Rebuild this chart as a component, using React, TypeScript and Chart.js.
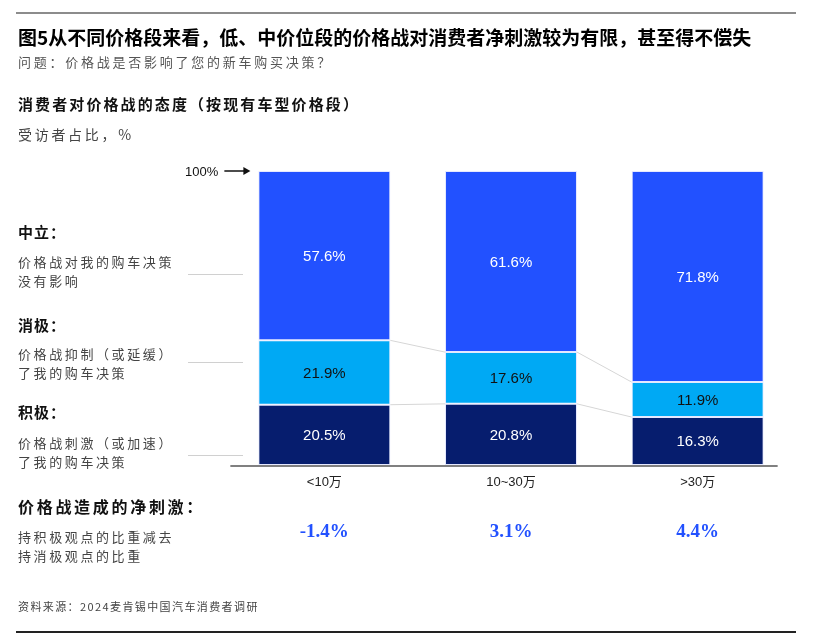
import React, { useEffect, useRef } from "react";
import { Chart, registerables } from "chart.js";

Chart.register(...registerables);

const categories = ["<10万", "10~30万", ">30万"];
const positiveShare = [20.5, 20.8, 16.3];
const negativeShare = [21.9, 17.6, 11.9];
const neutralShare = [57.6, 61.6, 71.8];
const netStimulus = ["-1.4%", "3.1%", "4.4%"];
const seriesColors = ["#061d6e", "#00a9f4", "#2251ff"];
const labelColors = ["#ffffff", "#111111", "#ffffff"];

const CJK = '"Noto Sans CJK SC", "Noto Sans", sans-serif';

const overlayPlugin = {
  id: "overlay",
  afterDatasetsDraw(chart: any) {
    const ctx = chart.ctx;
    const yScale = chart.scales.y;
    const xScale = chart.scales.x;
    ctx.save();
    // connectors between bars
    ctx.strokeStyle = "#d6d6d6";
    ctx.lineWidth = 1;
    [0, 1].forEach((di) => {
      const els = chart.getDatasetMeta(di).data;
      for (let j = 0; j < els.length - 1; j++) {
        const a = els[j], b = els[j + 1];
        ctx.beginPath();
        ctx.moveTo(a.x + a.width / 2, a.y);
        ctx.lineTo(b.x - b.width / 2, b.y);
        ctx.stroke();
      }
    });
    // data labels
    ctx.font = '15px "Liberation Sans", Arial, sans-serif';
    ctx.textAlign = "center";
    ctx.textBaseline = "middle";
    chart.data.datasets.forEach((ds: any, di: number) => {
      const els = chart.getDatasetMeta(di).data;
      els.forEach((el: any, j: number) => {
        ctx.fillStyle = labelColors[di];
        ctx.fillText(ds.data[j].toFixed(1) + "%", el.x, (el.y + el.base) / 2 + 1);
      });
    });
    // axis line
    const first = chart.getDatasetMeta(0).data[0];
    const last = chart.getDatasetMeta(0).data[categories.length - 1];
    const yb = yScale.getPixelForValue(0);
    ctx.strokeStyle = "#808080";
    ctx.lineWidth = 2;
    ctx.beginPath();
    ctx.moveTo(first.x - first.width / 2 - 28, yb + 1);
    ctx.lineTo(last.x + last.width / 2 + 14, yb + 1);
    ctx.stroke();
    // 100% arrow
    const yt = yScale.getPixelForValue(100);
    const ax = first.x - first.width / 2;
    ctx.fillStyle = "#111";
    ctx.font = '13px "Liberation Sans", Arial, sans-serif';
    ctx.textAlign = "right";
    ctx.fillText("100%", ax - 40, yt + 1);
    ctx.strokeStyle = "#111";
    ctx.lineWidth = 1.5;
    ctx.beginPath();
    ctx.moveTo(ax - 34, yt);
    ctx.lineTo(ax - 12, yt);
    ctx.stroke();
    ctx.beginPath();
    ctx.moveTo(ax - 8, yt);
    ctx.lineTo(ax - 15, yt - 4);
    ctx.lineTo(ax - 15, yt + 4);
    ctx.closePath();
    ctx.fill();
    // net stimulus values
    ctx.fillStyle = "#2251ff";
    ctx.font = 'bold 19px "Liberation Serif", "DejaVu Serif", serif';
    ctx.textAlign = "center";
    netStimulus.forEach((v, j) => {
      ctx.fillText(v, xScale.getPixelForValue(j), 532);
    });
    ctx.restore();
  },
};

function Txt(props: { x: number; y: number; size: number; bold?: boolean; color?: string; ls?: number; children: any }) {
  return (
    <div
      style={{
        position: "absolute",
        left: props.x,
        top: props.y,
        transform: "translateY(-50%)",
        fontFamily: CJK,
        fontSize: props.size,
        fontWeight: props.bold ? 700 : 400,
        color: props.color || "#111",
        letterSpacing: props.ls || 0,
        whiteSpace: "nowrap",
        lineHeight: 1.2,
      }}
    >
      {props.children}
    </div>
  );
}

function Rule(props: { x: number; y: number; w: number; h: number; color: string }) {
  return (
    <div style={{ position: "absolute", left: props.x, top: props.y, width: props.w, height: props.h, background: props.color }} />
  );
}

export default function App() {
  const ref = useRef<HTMLCanvasElement | null>(null);
  useEffect(() => {
    if (!ref.current) return;
    const chart = new Chart(ref.current, {
      type: "bar",
      data: {
        labels: categories,
        datasets: [
          { label: "积极", data: positiveShare, backgroundColor: seriesColors[0] },
          { label: "消极", data: negativeShare, backgroundColor: seriesColors[1] },
          { label: "中立", data: neutralShare, backgroundColor: seriesColors[2] },
        ].map((d) => ({
          ...d,
          borderColor: "rgba(225,228,255,0.85)",
          borderWidth: 1,
          borderSkipped: false,
          categoryPercentage: 1,
          barPercentage: 0.707,
        })),
      },
      options: {
        responsive: false,
        animation: false,
        layout: { padding: { left: 231, right: 40, top: 171, bottom: 146 } },
        plugins: { legend: { display: false }, tooltip: { enabled: false } },
        scales: {
          x: {
            stacked: true,
            grid: { display: false, drawTicks: false },
            border: { display: false },
            ticks: {
              padding: 10,
              color: "#222",
              font: { size: 13, family: '"Liberation Sans", "Noto Sans CJK SC", sans-serif' },
            },
            afterFit: (s: any) => {
              s.height = 30;
            },
          },
          y: { stacked: true, display: false, min: 0, max: 100 },
        },
      },
      plugins: [overlayPlugin],
    });
    return () => chart.destroy();
  }, []);

  return (
    <div style={{ position: "absolute", left: 0, top: 0, width: 831, height: 641, background: "#fff", overflow: "hidden" }}>
      <canvas ref={ref} width={831} height={641} style={{ position: "absolute", left: 0, top: 0 }} />
      <Rule x={16} y={12} w={780} h={2} color="#8c8c8c" />
      <Txt x={18} y={37} size={19} bold color="#000">图5从不同价格段来看，低、中价位段的价格战对消费者净刺激较为有限，甚至得不偿失</Txt>
      <Txt x={18} y={62} size={13} color="#555" ls={2.75}>问题：价格战是否影响了您的新车购买决策？</Txt>
      <Txt x={18} y={104} size={15} bold color="#111" ls={2.1}>消费者对价格战的态度（按现有车型价格段）</Txt>
      <Txt x={18} y={134} size={14} color="#444" ls={2.7}>受访者占比，%</Txt>

      <Txt x={18} y={232} size={15} bold ls={1}>中立：</Txt>
      <Txt x={18} y={262} size={13} color="#444" ls={2.6}>价格战对我的购车决策</Txt>
      <Txt x={18} y={281} size={13} color="#444" ls={2.6}>没有影响</Txt>
      <Rule x={188} y={274} w={55} h={1} color="#d0d0d0" />

      <Txt x={18} y={325} size={15} bold ls={1}>消极：</Txt>
      <Txt x={18} y={354} size={13} color="#444" ls={2.6}>价格战抑制（或延缓）</Txt>
      <Txt x={18} y={373} size={13} color="#444" ls={2.6}>了我的购车决策</Txt>
      <Rule x={188} y={362} w={55} h={1} color="#d0d0d0" />

      <Txt x={18} y={412} size={15} bold ls={1}>积极：</Txt>
      <Txt x={18} y={443} size={13} color="#444" ls={2.6}>价格战刺激（或加速）</Txt>
      <Txt x={18} y={462} size={13} color="#444" ls={2.6}>了我的购车决策</Txt>
      <Rule x={188} y={455} w={55} h={1} color="#d0d0d0" />

      <Txt x={18} y={507} size={16} bold ls={2.7}>价格战造成的净刺激：</Txt>
      <Txt x={18} y={537} size={13} color="#444" ls={2.6}>持积极观点的比重减去</Txt>
      <Txt x={18} y={556} size={13} color="#444" ls={2.6}>持消极观点的比重</Txt>

      <Txt x={18} y={607} size={11} color="#444" ls={1.4}>资料来源：2024麦肯锡中国汽车消费者调研</Txt>
      <Rule x={16} y={631} w={780} h={2} color="#222" />
    </div>
  );
}
